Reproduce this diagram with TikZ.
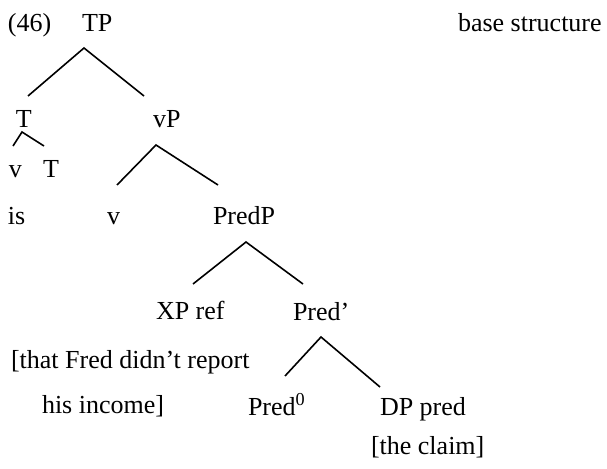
\documentclass[tikz,border=0pt]{standalone}
\usepackage{fontspec}
\setmainfont{Liberation Serif}
\begin{document}
\begin{tikzpicture}[x=1pt,y=-1pt,
  lab/.style={anchor=base west,inner sep=0pt,outer sep=0pt,font=\fontsize{26}{30}\selectfont},
  branch/.style={line width=1.6pt}]
\useasboundingbox (0,0) rectangle (607,468);
\node[lab] (n46) at (8,32) {(46)};
\node[lab] (TP) at (82,32) {TP};
\node[lab] (base) at (458,32) {base structure};
\node[lab] (T1) at (16,128) {T};
\node[lab] (vP) at (153,128) {vP};
\node[lab] (v1) at (9,177) {v};
\node[lab] (T2) at (43,177) {T};
\node[lab] (is) at (8,224) {is};
\node[lab] (v2) at (107,224) {v};
\node[lab] (PredP) at (213,224) {PredP};
\node[lab] (XPref) at (156,319) {XP ref};
\node[lab] (Predbar) at (293,320) {Pred’};
\node[lab] (that) at (11,368) {[that Fred didn’t report};
\node[lab] (his) at (42,413) {his income]};
\node[lab] (Pred0) at (248,415) {Pred\textsuperscript{0}};
\node[lab] (DPpred) at (380,415) {DP pred};
\node[lab] (claim) at (371,454) {[the claim]};
% branch points
\coordinate (aTP) at (84,48);
\coordinate (eT1) at (28,96);
\coordinate (evP) at (144,96);
\coordinate (aT1) at (22,132);
\coordinate (ev1) at (13,146);
\coordinate (eT2) at (44,146);
\coordinate (avP) at (156,145);
\coordinate (ev2) at (117,185);
\coordinate (ePredP) at (218,185);
\coordinate (aPredP) at (246,242);
\coordinate (eXP) at (193,284);
\coordinate (ePredbar) at (303,284);
\coordinate (aPredbar) at (321,337);
\coordinate (ePred0) at (285,376);
\coordinate (eDP) at (380,387);
\draw[branch] (eT1) -- (aTP) -- (evP);
\draw[branch] (ev1) -- (aT1) -- (eT2);
\draw[branch] (ev2) -- (avP) -- (ePredP);
\draw[branch] (eXP) -- (aPredP) -- (ePredbar);
\draw[branch] (ePred0) -- (aPredbar) -- (eDP);
\end{tikzpicture}
\end{document}
